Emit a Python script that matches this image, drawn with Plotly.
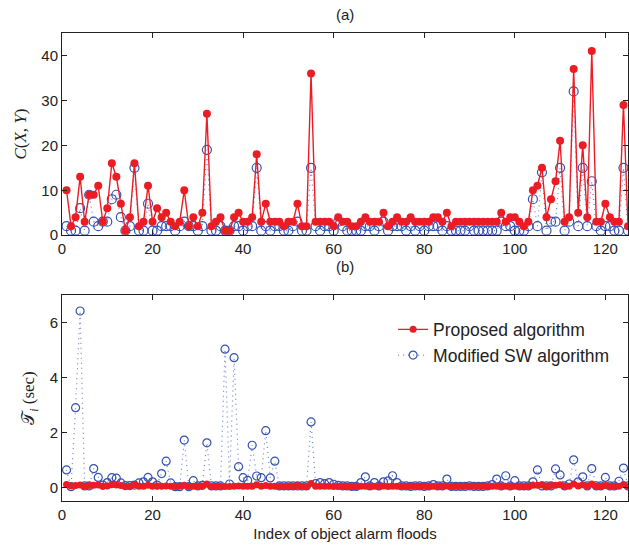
import plotly.graph_objects as go

# Index of each object alarm flood
flood_index = list(range(1, 126))

# (a) similarity score C(X,Y)
c_proposed = [
    10, 2, 4, 13, 3, 9, 9, 11, 3, 6, 16, 13, 7, 1, 4, 16, 2, 3, 11, 3,
    6, 4, 5, 3, 2, 3, 10, 2, 4, 2, 5, 27, 2, 3, 4, 1, 1, 4, 5, 3,
    3, 4, 18, 3, 7, 3, 3, 3, 2, 3, 3, 7, 2, 2, 36, 3, 3, 3, 3, 2,
    4, 3, 3, 2, 2, 3, 4, 3, 3, 3, 5, 2, 3, 4, 3, 3, 4, 3, 3, 3,
    3, 4, 4, 3, 5, 2, 3, 3, 3, 3, 3, 3, 3, 3, 3, 3, 5, 3, 4, 4,
    3, 2, 3, 10, 11, 15, 4, 8, 12, 21, 3, 4, 37, 5, 20, 4, 41, 3, 3, 7,
    4, 3, 3, 29, 2,
]
c_modified_sw = [
    2, 1, 1, 6, 1, 9, 3, 2, 3, 3, 8, 9, 4, 1, 2, 15, 1, 1, 7, 1,
    1, 2, 2, 2, 1, 2, 3, 2, 2, 1, 2, 19, 1, 1, 2, 1, 1, 2, 2, 1,
    2, 2, 15, 1, 2, 1, 2, 2, 1, 1, 2, 3, 1, 1, 15, 2, 1, 2, 2, 1,
    3, 2, 1, 1, 1, 1, 2, 2, 1, 2, 3, 1, 2, 2, 2, 1, 2, 1, 2, 1,
    2, 2, 2, 1, 2, 1, 1, 1, 1, 2, 1, 1, 1, 1, 1, 1, 3, 2, 2, 1,
    1, 1, 2, 8, 2, 14, 1, 3, 3, 15, 1, 3, 32, 2, 15, 2, 12, 2, 1, 2,
    2, 1, 1, 15, 1,
]

# (b) computation time T_i in seconds
t_proposed = [
    0.10, 0.05, 0.06, 0.08, 0.04, 0.06, 0.07, 0.08, 0.04, 0.05, 0.09, 0.08, 0.06, 0.03, 0.04, 0.09, 0.04, 0.04, 0.07, 0.04,
    0.05, 0.04, 0.05, 0.04, 0.03, 0.04, 0.07, 0.03, 0.04, 0.04, 0.05, 0.12, 0.03, 0.04, 0.04, 0.03, 0.03, 0.04, 0.05, 0.04,
    0.04, 0.04, 0.09, 0.04, 0.06, 0.04, 0.04, 0.04, 0.03, 0.04, 0.04, 0.06, 0.03, 0.03, 0.14, 0.04, 0.04, 0.04, 0.04, 0.03,
    0.04, 0.04, 0.04, 0.03, 0.03, 0.04, 0.04, 0.04, 0.04, 0.04, 0.05, 0.03, 0.04, 0.04, 0.04, 0.04, 0.04, 0.04, 0.04, 0.04,
    0.04, 0.04, 0.04, 0.04, 0.05, 0.03, 0.04, 0.04, 0.04, 0.04, 0.04, 0.04, 0.04, 0.04, 0.04, 0.04, 0.05, 0.04, 0.04, 0.04,
    0.04, 0.03, 0.04, 0.07, 0.07, 0.08, 0.04, 0.06, 0.07, 0.09, 0.04, 0.04, 0.12, 0.05, 0.09, 0.04, 0.12, 0.04, 0.04, 0.06,
    0.04, 0.04, 0.04, 0.10, 0.03,
]
t_modified_sw = [
    0.63, 0.02, 2.90, 6.42, 0.05, 0.05, 0.68, 0.36, 0.08, 0.17, 0.35, 0.33, 0.16, 0.06, 0.06, 0.08, 0.16, 0.20, 0.36, 0.20,
    0.08, 0.50, 0.95, 0.16, 0.02, 0.02, 1.72, 0.02, 0.24, 0.05, 0.07, 1.62, 0.05, 0.05, 0.05, 5.03, 0.12, 4.72, 0.75, 0.35,
    0.25, 1.53, 0.41, 0.35, 2.06, 0.34, 0.95, 0.05, 0.05, 0.05, 0.05, 0.05, 0.05, 0.05, 2.38, 0.13, 0.17, 0.13, 0.17, 0.11,
    0.07, 0.05, 0.05, 0.03, 0.03, 0.17, 0.38, 0.05, 0.17, 0.05, 0.20, 0.23, 0.42, 0.17, 0.05, 0.05, 0.03, 0.05, 0.05, 0.03,
    0.05, 0.10, 0.05, 0.05, 0.30, 0.03, 0.03, 0.03, 0.03, 0.05, 0.03, 0.03, 0.03, 0.05, 0.10, 0.30, 0.05, 0.42, 0.05, 0.24,
    0.05, 0.05, 0.05, 0.20, 0.63, 0.05, 0.05, 0.05, 0.67, 0.45, 0.05, 0.12, 1.00, 0.20, 0.38, 0.05, 0.68, 0.05, 0.05, 0.36,
    0.05, 0.05, 0.22, 0.70, 0.05,
]

x_ticks = [0, 20, 40, 60, 80, 100, 120]

RED = "rgb(236,28,36)"
BLUE = "rgb(52,82,176)"
BLUE_LINE = "rgb(110,130,205)"
FONT = "Liberation Sans"

fig = go.Figure()

# panel (a)
fig.add_trace(go.Scatter(
    x=flood_index, y=c_modified_sw, mode="lines+markers",
    line=dict(color=BLUE_LINE, width=1.2, dash="1px,4px"),
    marker=dict(symbol="circle-open", size=9, color=BLUE, line=dict(width=1.2)),
    xaxis="x", yaxis="y", showlegend=False))
fig.add_trace(go.Scatter(
    x=flood_index, y=c_proposed, mode="lines+markers",
    line=dict(color=RED, width=1.4),
    marker=dict(symbol="circle", size=8, color=RED),
    xaxis="x", yaxis="y", showlegend=False))

# panel (b)
fig.add_trace(go.Scatter(
    x=flood_index, y=t_modified_sw, mode="lines+markers",
    name="Modified SW algorithm",
    line=dict(color=BLUE_LINE, width=1.2, dash="1px,4px"),
    marker=dict(symbol="circle-open", size=8, color=BLUE, line=dict(width=1.2)),
    xaxis="x2", yaxis="y2"))
fig.add_trace(go.Scatter(
    x=flood_index, y=t_proposed, mode="lines+markers",
    name="Proposed algorithm",
    line=dict(color=RED, width=1.4),
    marker=dict(symbol="circle", size=7, color=RED),
    xaxis="x2", yaxis="y2"))

axis_common = dict(
    showline=True, mirror="ticks", linecolor="#222", linewidth=1,
    ticks="inside", ticklen=5, tickcolor="#222", showgrid=False, zeroline=False,
    tickfont=dict(family=FONT, size=15, color="#222"),
)

fig.update_layout(
    width=629, height=550,
    margin=dict(l=62, r=1, t=33, b=49),
    paper_bgcolor="white", plot_bgcolor="white",
    font=dict(family=FONT, color="#222"),
    xaxis=dict(domain=[0, 1], range=[0, 125], tickvals=x_ticks, anchor="y", **axis_common),
    yaxis=dict(domain=[0.568, 1], range=[0, 45], tickvals=[0, 10, 20, 30, 40], anchor="x",
               title=dict(text="<i>C</i>(<i>X, Y</i>)", font=dict(family="Liberation Serif", size=17), standoff=10),
               **axis_common),
    xaxis2=dict(domain=[0, 1], range=[0, 125], tickvals=x_ticks, anchor="y2",
                title=dict(text="Index of object alarm floods", font=dict(family=FONT, size=15), standoff=6),
                **axis_common),
    yaxis2=dict(domain=[0, 0.44], range=[-0.5, 7], tickvals=[0, 2, 4, 6], anchor="x2",
                title=dict(text="𝒯<sub><i>i</i></sub> (sec)", font=dict(family="Liberation Serif", size=17), standoff=10),
                **axis_common),
    legend=dict(x=0.585, y=0.405, xanchor="left", yanchor="top",
                bgcolor="rgba(0,0,0,0)", borderwidth=0, tracegroupgap=0,
                font=dict(family=FONT, size=17.5, color="#222"),
                traceorder="reversed"),
    annotations=[
        dict(text="(a)", x=0.5, y=1, xref="paper", yref="paper", xanchor="center", yanchor="bottom",
             yshift=8, showarrow=False, font=dict(family=FONT, size=15, color="#222")),
        dict(text="(b)", x=0.5, y=0.44, xref="paper", yref="paper", xanchor="center", yanchor="bottom",
             yshift=18, showarrow=False, font=dict(family=FONT, size=15, color="#222")),
    ],
)

fig.write_html("out.html")
